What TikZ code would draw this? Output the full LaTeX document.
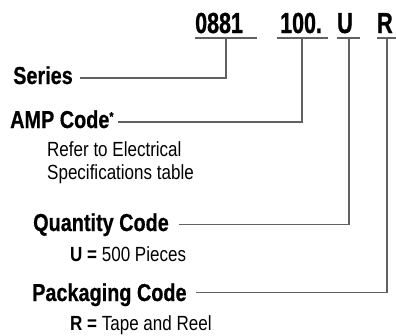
\documentclass[tikz,border=0pt]{standalone}
\usepackage{fontspec}
\setmainfont{Liberation Sans}
\newfontfamily\codefont{Liberation Sans}[FakeStretch=0.74,FakeBold=1]
\newfontfamily\labelfont{Liberation Sans}[FakeStretch=0.81,FakeBold=0.6]
\newfontfamily\bodyfont{Liberation Sans}[FakeStretch=0.83]
\begin{document}
\begin{tikzpicture}[x=1pt,y=1pt,
  code/.style={anchor=base west,inner sep=0pt,font=\codefont\fontsize{29}{29}\selectfont\bfseries},
  lbl/.style={anchor=base west,inner sep=0pt,font=\labelfont\fontsize{24.5}{24.5}\selectfont\bfseries},
  body/.style={anchor=base west,inner sep=0pt,font=\bodyfont\fontsize{20.5}{20.5}\selectfont},
  conn/.style={draw=black!62,line width=1.1pt}]
\useasboundingbox (0,0) rectangle (396,-335);
% codes
\node[code] (c1) at (195,-33) {0881};
\node[code] (c2) at (280,-33) {100.};
\node[code] (c3) at (337,-33) {U};
\node[code] (c4) at (377,-33) {R};
% underline end points
\coordinate (u1a) at (195,-38); \coordinate (u1b) at (257,-38);
\coordinate (u2a) at (277,-38); \coordinate (u2b) at (328,-38);
\coordinate (u3a) at (337,-38); \coordinate (u3b) at (360,-38);
\coordinate (u4a) at (377,-38); \coordinate (u4b) at (396,-38);
\coordinate (v1) at (226,-38);
\coordinate (v2) at (302,-38);
\coordinate (v3) at (349,-38);
\coordinate (v4) at (387,-38);
\draw[conn] (u1a) -- (u1b);
\draw[conn] (u2a) -- (u2b);
\draw[conn] (u3a) -- (u3b);
\draw[conn] (u4a) -- (u4b);
% labels
\node[lbl] (series) at (13,-84) {Series};
\node[lbl] (amp) at (10,-128) {AMP Code\raisebox{7pt}{\fontsize{13}{13}\selectfont*}};
\node[body] (refer) at (47,-156) {Refer to Electrical};
\node[body] (spec) at (47,-179) {Specifications table};
\node[lbl] (qty) at (33,-231) {Quantity Code};
\node[body] (qtyval) at (70,-261) {\textbf{U =} 500 Pieces};
\node[lbl] (pkg) at (32,-301) {Packaging Code};
\node[body] (pkgval) at (70,-330) {\textbf{R =} Tape and Reel};
% connectors
\draw[conn] ([shift={(7pt,6pt)}]series.base east) -| (v1);
\draw[conn] ([shift={(4pt,6pt)}]amp.base east) -| (v2);
\draw[conn] ([shift={(10pt,6.5pt)}]qty.base east) -| (v3);
\draw[conn] ([shift={(9pt,8.5pt)}]pkg.base east) -| (v4);
\end{tikzpicture}
\end{document}
